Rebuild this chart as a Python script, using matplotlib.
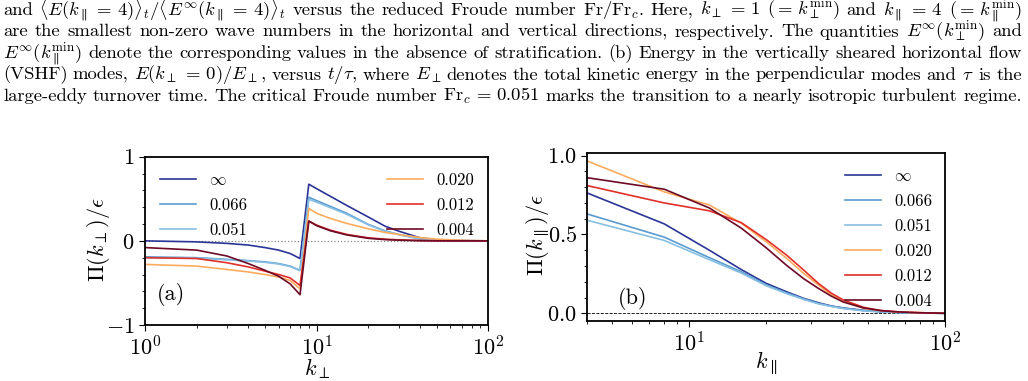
import matplotlib
matplotlib.use("Agg")
import matplotlib.pyplot as plt
from matplotlib.ticker import MultipleLocator, LogLocator, NullFormatter, FormatStrFormatter

plt.rcParams.update({
    "font.family": "serif",
    "font.serif": ["cmr10"],
    "mathtext.fontset": "cm",
    "axes.formatter.use_mathtext": True,
    "axes.unicode_minus": True,
    "axes.linewidth": 1.3,
    "xtick.major.size": 4,
    "ytick.major.size": 4,
    "xtick.minor.size": 2.5,
    "ytick.minor.size": 2.5,
    "xtick.major.width": 0.8,
    "ytick.major.width": 0.8,
    "xtick.minor.width": 0.6,
    "ytick.minor.width": 0.6,
})

W, H = 1028, 381

# ---- data -------------------------------------------------------------
labels = [r"$\infty$", "0.066", "0.051", "0.020", "0.012", "0.004"]
colors = ["#2b3595", "#5a9bd0", "#87bfe2", "#fdac5e", "#e0302a", "#6d0a26"]

kperp = [1, 2, 3, 4, 5, 6, 7, 8, 9, 10, 12, 15, 20, 25, 30, 40, 50, 60, 80, 100]
pi_perp = [
    [0.0, -0.012, -0.03, -0.05, -0.08, -0.11, -0.15, -0.21, 0.673, 0.62, 0.53,
     0.42, 0.283, 0.175, 0.116, 0.036, 0.012, 0.004, 0.001, 0.0],
    [-0.19, -0.20, -0.22, -0.235, -0.25, -0.27, -0.30, -0.35, 0.518, 0.478, 0.41,
     0.327, 0.195, 0.12, 0.076, 0.024, 0.008, 0.004, 0.001, 0.0],
    [-0.20, -0.205, -0.225, -0.24, -0.255, -0.275, -0.305, -0.355, 0.494, 0.46, 0.395,
     0.315, 0.19, 0.115, 0.074, 0.022, 0.008, 0.004, 0.001, 0.0],
    [-0.28, -0.30, -0.34, -0.37, -0.40, -0.43, -0.47, -0.57, 0.386, 0.327, 0.267,
     0.207, 0.143, 0.10, 0.076, 0.04, 0.02, 0.012, 0.004, 0.0],
    [-0.20, -0.21, -0.26, -0.31, -0.36, -0.40, -0.44, -0.53, 0.235, 0.187, 0.127,
     0.076, 0.036, 0.02, 0.012, 0.004, 0.001, 0.0, 0.0, 0.0],
    [-0.08, -0.11, -0.18, -0.27, -0.35, -0.42, -0.51, -0.64, 0.235, 0.18, 0.12,
     0.07, 0.03, 0.015, 0.008, 0.002, 0.0, 0.0, 0.0, 0.0],
]

kpar = [4, 8, 12, 16, 20, 24, 28, 32, 36, 40, 48, 56, 64, 72, 80, 88, 96, 100]
pi_par = [
    [0.763, 0.567, 0.40, 0.277, 0.19, 0.137, 0.095, 0.067, 0.046, 0.034, 0.019,
     0.01, 0.006, 0.003, 0.002, 0.001, 0.0, 0.0],
    [0.63, 0.483, 0.353, 0.263, 0.18, 0.13, 0.092, 0.063, 0.045, 0.032, 0.017,
     0.01, 0.006, 0.003, 0.002, 0.001, 0.0, 0.0],
    [0.59, 0.462, 0.34, 0.255, 0.175, 0.125, 0.088, 0.06, 0.043, 0.03, 0.016,
     0.009, 0.005, 0.003, 0.002, 0.001, 0.0, 0.0],
    [0.966, 0.77, 0.687, 0.571, 0.454, 0.35, 0.254, 0.18, 0.116, 0.074, 0.032,
     0.017, 0.01, 0.006, 0.004, 0.002, 0.001, 0.0],
    [0.81, 0.70, 0.65, 0.575, 0.468, 0.37, 0.275, 0.19, 0.127, 0.085, 0.038,
     0.018, 0.01, 0.006, 0.004, 0.002, 0.001, 0.0],
    [0.86, 0.787, 0.668, 0.54, 0.416, 0.305, 0.22, 0.158, 0.108, 0.072, 0.034,
     0.017, 0.01, 0.006, 0.003, 0.002, 0.001, 0.0],
]

caption = [
    r"and $\langle E(k_\parallel\,=\,4)\rangle_t/\langle E^\infty(k_\parallel\,=\,4)\rangle_t$ versus the reduced Froude number Fr/Fr$_c$. Here, $k_\perp\,=\,1$ $(=\,k_\perp^{\min})$ and $k_\parallel\,=\,4$ $(=\,k_\parallel^{\min})$",
    r"are the smallest non-zero wave numbers in the horizontal and vertical directions, respectively. The quantities $E^\infty(k_\perp^{\min})$ and",
    r"$E^\infty(k_\parallel^{\min})$ denote the corresponding values in the absence of stratification. (b) Energy in the vertically sheared horizontal flow",
    r"(VSHF) modes, $E(k_\perp\,=\,0)/E_\perp$, versus $t/\tau$, where $E_\perp$ denotes the total kinetic energy in the perpendicular modes and $\tau$ is the",
    r"large-eddy turnover time. The critical Froude number Fr$_c\,=\,0.051$ marks the transition to a nearly isotropic turbulent regime.",
]


def split_words(s):
    words, cur, in_math = [], "", False
    for ch in s:
        if ch == "$":
            in_math = not in_math
        if ch == " " and not in_math:
            if cur:
                words.append(cur)
            cur = ""
        else:
            cur += ch
    if cur:
        words.append(cur)
    return words


fig = plt.figure(figsize=(W / 100, H / 100), dpi=100)
renderer = fig.canvas.get_renderer()

# justified caption lines
baselines = [15, 36.5, 58, 79.5, 101]
x_left, x_right = 3, 1022
for line, yb in zip(caption, baselines):
    words = split_words(line)
    texts = [fig.text(0, 1 - yb / H, w, fontsize=13.4, va="baseline", ha="left")
             for w in words]
    widths = [t.get_window_extent(renderer).width for t in texts]
    gap = (x_right - x_left - sum(widths)) / (len(words) - 1)
    x = x_left
    for t, w in zip(texts, widths):
        t.set_x(x / W)
        x += w + gap

leg_kw = dict(frameon=False, fontsize=12, handlelength=2.15, handletextpad=0.8,
              labelspacing=0.58, borderaxespad=0, borderpad=0)

# ---- panel (a) ---------------------------------------------------------
ax1 = fig.add_axes([145 / W, 1 - 325 / H, 343.3 / W, 168.3 / H])
for vals, c, lab in zip(pi_perp, colors, labels):
    ax1.plot(kperp, vals, color=c, lw=1.2, label=lab)
ax1.axhline(0, color="#888888", ls=":", lw=0.9, zorder=0)
ax1.set_xscale("log")
ax1.set_xlim(1, 100)
ax1.set_ylim(-1, 1)
ax1.yaxis.set_major_locator(MultipleLocator(1))
ax1.yaxis.set_minor_locator(MultipleLocator(0.2))
ax1.tick_params(labelsize=16)
ax1.set_xlabel(r"$k_\perp$", fontsize=16)
ax1.xaxis.set_label_coords(0.5, -0.185)
ax1.set_ylabel(r"$\Pi(k_\perp)/\epsilon$", fontsize=16)
ax1.yaxis.set_label_coords(-0.095, 0.51)
ax1.text(0.035, 0.15, "(a)", transform=ax1.transAxes, fontsize=16)

h, l = ax1.get_legend_handles_labels()
lg1 = ax1.legend(h[:3], l[:3], loc="upper left", bbox_to_anchor=(0.044, 0.905), **leg_kw)
ax1.add_artist(lg1)
ax1.legend(h[3:], l[3:], loc="upper left", bbox_to_anchor=(0.705, 0.905), **leg_kw)

# ---- panel (b) ---------------------------------------------------------
ax2 = fig.add_axes([587.3 / W, 1 - 320.7 / H, 357.7 / W, 167.4 / H])
for vals, c, lab in zip(pi_par, colors, labels):
    ax2.plot(kpar, vals, color=c, lw=1.2, label=lab)
ax2.axhline(0, color="black", ls="--", lw=0.6, zorder=0)
ax2.set_xscale("log")
ax2.set_xlim(4, 100)
ax2.set_ylim(-0.047, 1.015)
ax2.yaxis.set_major_locator(MultipleLocator(0.5))
ax2.yaxis.set_minor_locator(MultipleLocator(0.1))
ax2.yaxis.set_major_formatter(FormatStrFormatter(r"$%.1f$"))
ax2.xaxis.set_minor_locator(LogLocator(subs=range(2, 10)))
ax2.xaxis.set_minor_formatter(NullFormatter())
ax2.tick_params(labelsize=16)
ax2.set_xlabel(r"$k_\parallel$", fontsize=16)
ax2.xaxis.set_label_coords(0.5, -0.175)
ax2.set_ylabel(r"$\Pi(k_\parallel)/\epsilon$", fontsize=16)
ax2.yaxis.set_label_coords(-0.1, 0.51)
ax2.text(0.085, 0.10, "(b)", transform=ax2.transAxes, fontsize=16)
ax2.legend(loc="upper left", bbox_to_anchor=(0.72, 0.908), **leg_kw)

fig.savefig("out.png", dpi=100)
